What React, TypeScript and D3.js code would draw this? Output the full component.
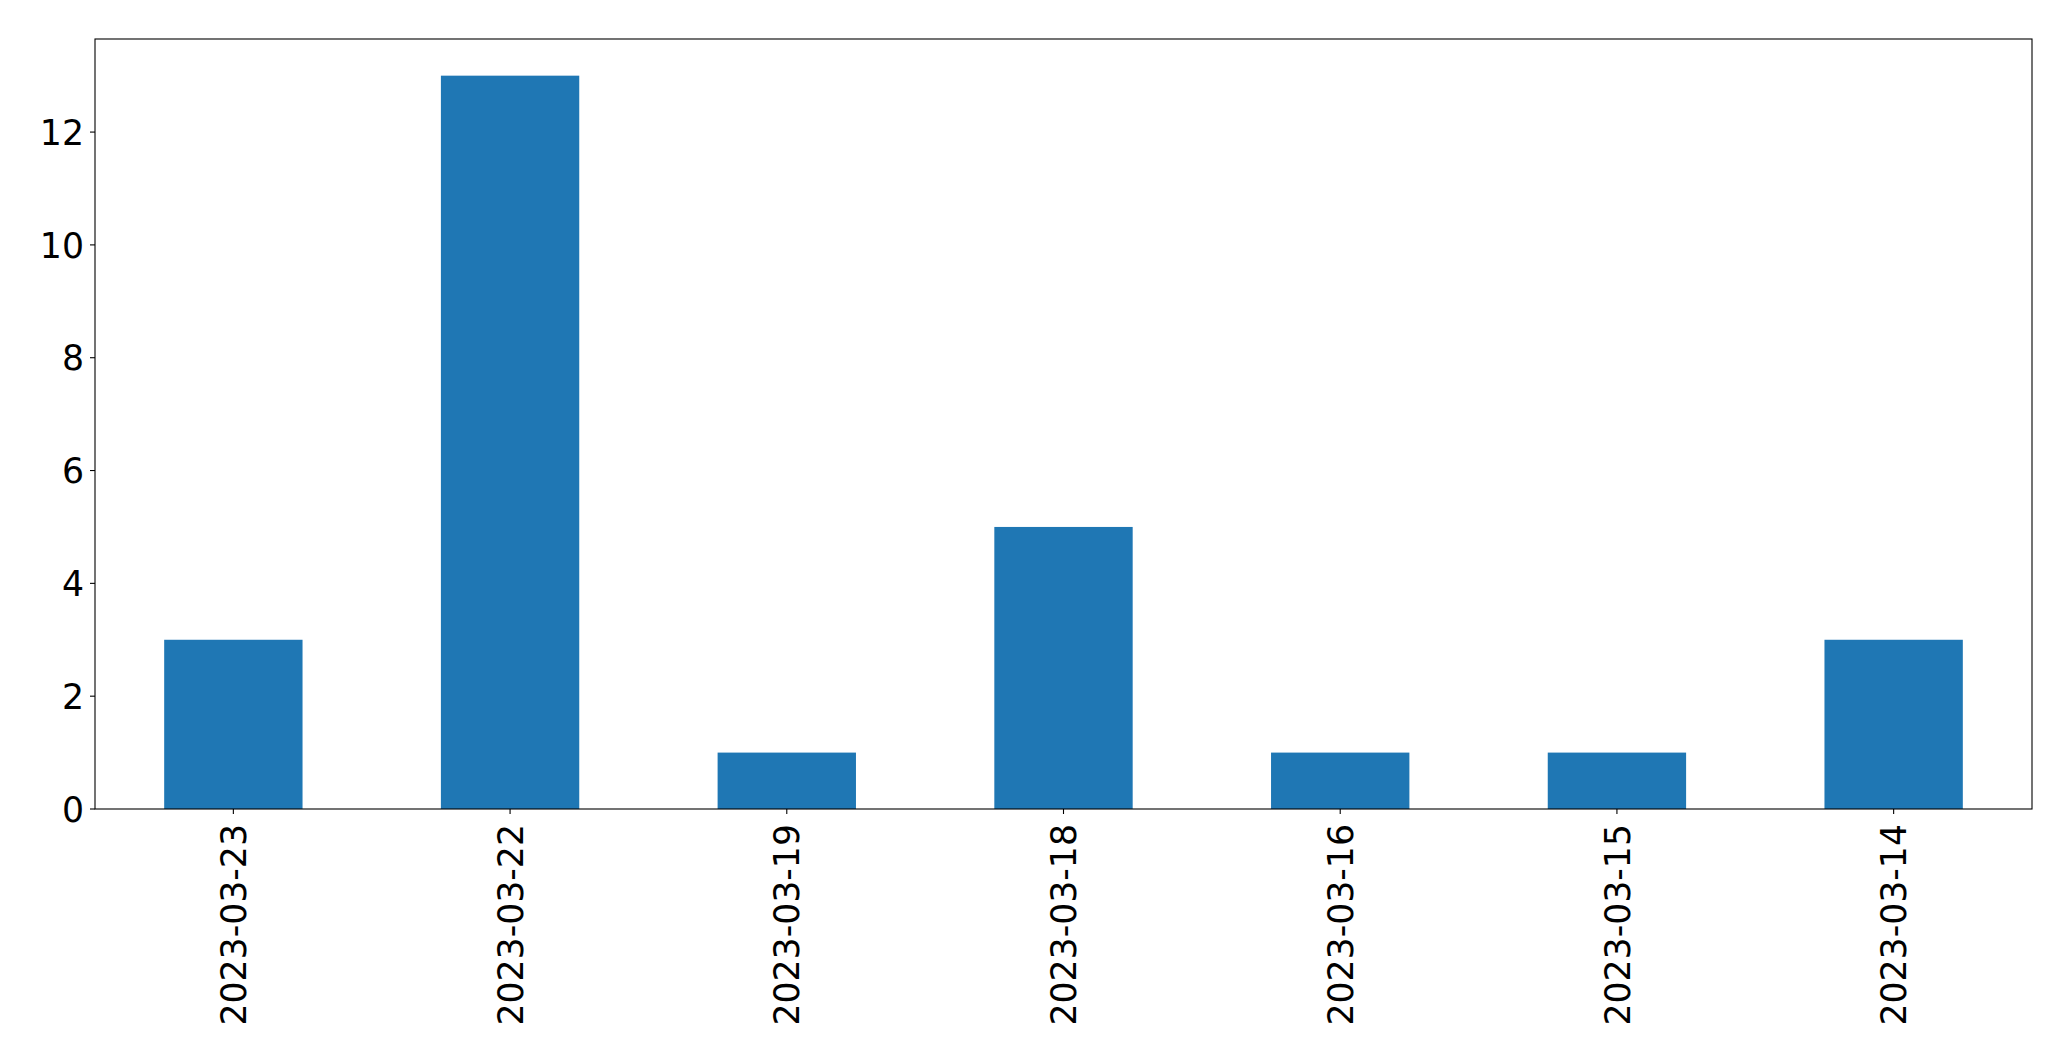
import React from "react";
import * as d3 from "d3";

const categories = ["2023-03-23", "2023-03-22", "2023-03-19", "2023-03-18", "2023-03-16", "2023-03-15", "2023-03-14"];
const values = [3, 13, 1, 5, 1, 1, 3];
const yTicks = [0, 2, 4, 6, 8, 10, 12];

const W = 2071;
const H = 1061;
const M = { left: 95, right: 2032, top: 39, bottom: 809 };
const FS = 34.7;
const FONT = "DejaVu Sans, sans-serif";

export default function App() {
  const x = d3
    .scaleBand<string>()
    .domain(categories)
    .range([M.left, M.right])
    .paddingInner(0.5)
    .paddingOuter(0.25);
  const yMax = d3.max(values)! * 1.05;
  const y = d3.scaleLinear().domain([0, yMax]).range([M.bottom, M.top]);

  return (
    <svg
      width={W}
      height={H}
      style={{ position: "absolute", left: 0, top: 0, background: "#fff" }}
      fontFamily={FONT}
    >
      <rect x={0} y={0} width={W} height={H} fill="#fff" />
      {categories.map((c, i) => (
        <rect
          key={c}
          x={x(c)}
          y={y(values[i])}
          width={x.bandwidth()}
          height={y(0) - y(values[i])}
          fill="#1f77b4"
        />
      ))}
      <rect
        x={M.left}
        y={M.top}
        width={M.right - M.left}
        height={M.bottom - M.top}
        fill="none"
        stroke="#000"
        strokeWidth={1.1}
      />
      {yTicks.map((t) => (
        <g key={t}>
          <line x1={M.left - 5} x2={M.left} y1={y(t)} y2={y(t)} stroke="#000" strokeWidth={1.1} />
          <text
            x={M.left - 11}
            y={y(t) + FS * 0.364}
            textAnchor="end"
            fontSize={FS}
            fill="#000"
          >
            {t}
          </text>
        </g>
      ))}
      {categories.map((c) => {
        const cx = x(c)! + x.bandwidth() / 2;
        return (
          <g key={c}>
            <line x1={cx} x2={cx} y1={M.bottom} y2={M.bottom + 5} stroke="#000" strokeWidth={1.1} />
            <text
              transform={`translate(${cx + FS * 0.364},${M.bottom + 15}) rotate(-90)`}
              textAnchor="end"
              fontSize={FS}
              fill="#000"
            >
              {c}
            </text>
          </g>
        );
      })}
    </svg>
  );
}
